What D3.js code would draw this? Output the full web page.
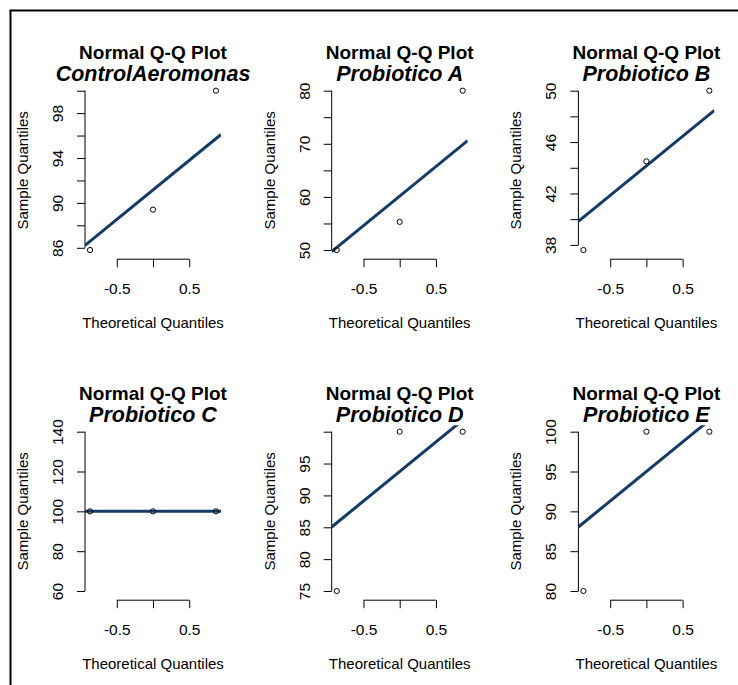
<!DOCTYPE html>
<html>
<head>
  <meta charset='utf-8'>
  <title>Normal Q-Q Plots</title>
  <script src="https://cdnjs.cloudflare.com/ajax/libs/d3/7.8.5/d3.min.js"></script>
  <style>
    body { margin: 0; background: #fff; }
    text { font-family: "Liberation Sans", Arial, sans-serif; fill: #000; }
  </style>
</head>
<body>
  <script>
    // sample values per group (sorted)
    const groups = ["ControlAeromonas", "Probiotico A", "Probiotico B", "Probiotico C", "Probiotico D", "Probiotico E"];
    const controlAeromonas = [85.8, 89.4, 100];
    const probioticoA = [50, 55.3, 80];
    const probioticoB = [37.6, 44.5, 50];
    const probioticoC = [100, 100, 100];
    const probioticoD = [75, 100, 100];
    const probioticoE = [80, 100, 100];
    const samples = [controlAeromonas, probioticoA, probioticoB, probioticoC, probioticoD, probioticoE];

    // theoretical normal quantiles for n = 3
    const theoQuant = [-0.8694, 0, 0.8694];

    // axis ticks and the labels R kept (overlapping ones are dropped)
    const yTicks = [
      [86, 88, 90, 92, 94, 96, 98, 100],
      [50, 55, 60, 65, 70, 75, 80],
      [38, 40, 42, 44, 46, 48, 50],
      [60, 80, 100, 120, 140],
      [75, 80, 85, 90, 95, 100],
      [80, 85, 90, 95, 100]
    ];
    const yLabels = [
      [86, 90, 94, 98],
      [50, 60, 70, 80],
      [38, 42, 46, 50],
      [60, 80, 100, 120, 140],
      [75, 80, 85, 90, 95],
      [80, 85, 90, 95, 100]
    ];
    const xTicks = [-0.5, 0, 0.5];
    const xLabels = [-0.5, 0.5];

    const W = 738, H = 685;
    const colW = 246.7, rowH = 341;
    const pl = 85, pr = 221, pt = 84.3, pb = 256.4;

    const svg = d3.select("body").append("svg")
      .attr("width", W).attr("height", H);

    svg.append("rect").attr("width", W).attr("height", H).attr("fill", "#fff");

    // frame: top and left edges only
    svg.append("path")
      .attr("d", `M10.5,${H} L10.5,10.5 L${W},10.5`)
      .attr("fill", "none").attr("stroke", "#000").attr("stroke-width", 2);

    function extend(lo, hi) {
      if (lo === hi) { const d = Math.abs(lo) * 0.4 || 1; lo -= d; hi += d; }
      const e = (hi - lo) * 0.04;
      return [lo - e, hi + e];
    }

    function quantile7(v, p) {
      const h = (v.length - 1) * p, lo = Math.floor(h);
      return v[lo] + (h - lo) * ((v[lo + 1] ?? v[lo]) - v[lo]);
    }

    samples.forEach((vals, i) => {
      const col = i % 3, row = Math.floor(i / 3);
      const g = svg.append("g")
        .attr("transform", `translate(${col * colW},${row * rowH})`);

      const x = d3.scaleLinear().domain(extend(d3.min(theoQuant), d3.max(theoQuant))).range([pl, pr]);
      const y = d3.scaleLinear().domain(extend(d3.min(vals), d3.max(vals))).range([pb, pt]);

      const cx = (pl + pr) / 2, cy = (pt + pb) / 2;

      // titles
      g.append("text").attr("x", cx).attr("y", 59)
        .attr("text-anchor", "middle").attr("font-size", 19).attr("font-weight", "bold")
        .text("Normal Q-Q Plot");
      g.append("text").attr("x", cx).attr("y", 81)
        .attr("text-anchor", "middle").attr("font-size", 21.5).attr("font-weight", "bold")
        .attr("font-style", "italic")
        .text(groups[i]);

      // y axis
      const ya = g.append("g").attr("transform", `translate(${pl},0)`)
        .call(d3.axisLeft(y).tickValues(yTicks[i]).tickSize(8)
          .tickFormat(d => yLabels[i].includes(d) ? d : ""));
      ya.select(".domain").remove();
      ya.selectAll("line").attr("stroke", "#000");
      ya.selectAll("text")
        .attr("transform", "rotate(-90)")
        .attr("x", 0).attr("y", -22).attr("dy", 0)
        .attr("text-anchor", "middle")
        .attr("font-size", 15.5).attr("font-family", "Liberation Sans, Arial, sans-serif");
      const yt = yTicks[i];
      ya.append("line").attr("x1", 0).attr("x2", 0)
        .attr("y1", y(yt[0])).attr("y2", y(yt[yt.length - 1]))
        .attr("stroke", "#000");

      // x axis
      const xa = g.append("g").attr("transform", `translate(0,${pb + 2.8})`)
        .call(d3.axisBottom(x).tickValues(xTicks).tickSize(8)
          .tickFormat(d => xLabels.includes(d) ? d.toFixed(1) : ""));
      xa.select(".domain").remove();
      xa.selectAll("line").attr("stroke", "#000");
      xa.selectAll("text").attr("y", 34.5).attr("dy", 0)
        .attr("font-size", 15.5).attr("font-family", "Liberation Sans, Arial, sans-serif");
      xa.append("line")
        .attr("x1", x(xTicks[0])).attr("x2", x(xTicks[xTicks.length - 1]))
        .attr("y1", 0).attr("y2", 0).attr("stroke", "#000");

      // axis titles
      g.append("text").attr("x", cx).attr("y", 327.5)
        .attr("text-anchor", "middle").attr("font-size", 15)
        .text("Theoretical Quantiles");
      g.append("text").attr("transform", `translate(28,${cy}) rotate(-90)`)
        .attr("text-anchor", "middle").attr("font-size", 15)
        .text("Sample Quantiles");

      // qq line through the quartiles, clipped to plot region
      const clipId = "clip" + i;
      g.append("clipPath").attr("id", clipId)
        .append("rect").attr("x", pl).attr("y", pt).attr("width", pr - pl).attr("height", pb - pt);
      const q1 = quantile7(vals, 0.25), q3 = quantile7(vals, 0.75);
      const slope = (q3 - q1) / (2 * 0.6744898);
      const mid = (q1 + q3) / 2;
      const [x0, x1] = x.domain();
      g.append("line")
        .attr("clip-path", `url(#${clipId})`)
        .attr("x1", x(x0)).attr("y1", y(mid + slope * x0))
        .attr("x2", x(x1)).attr("y2", y(mid + slope * x1))
        .attr("stroke", "#143b66").attr("stroke-width", 3);

      // points
      g.selectAll("circle.pt").data(vals).join("circle")
        .attr("class", "pt")
        .attr("cx", (d, j) => x(theoQuant[j]))
        .attr("cy", d => y(d))
        .attr("r", 2.6)
        .attr("fill", "none").attr("stroke", "#000").attr("stroke-width", 1);
    });
  </script>
</body>
</html>
